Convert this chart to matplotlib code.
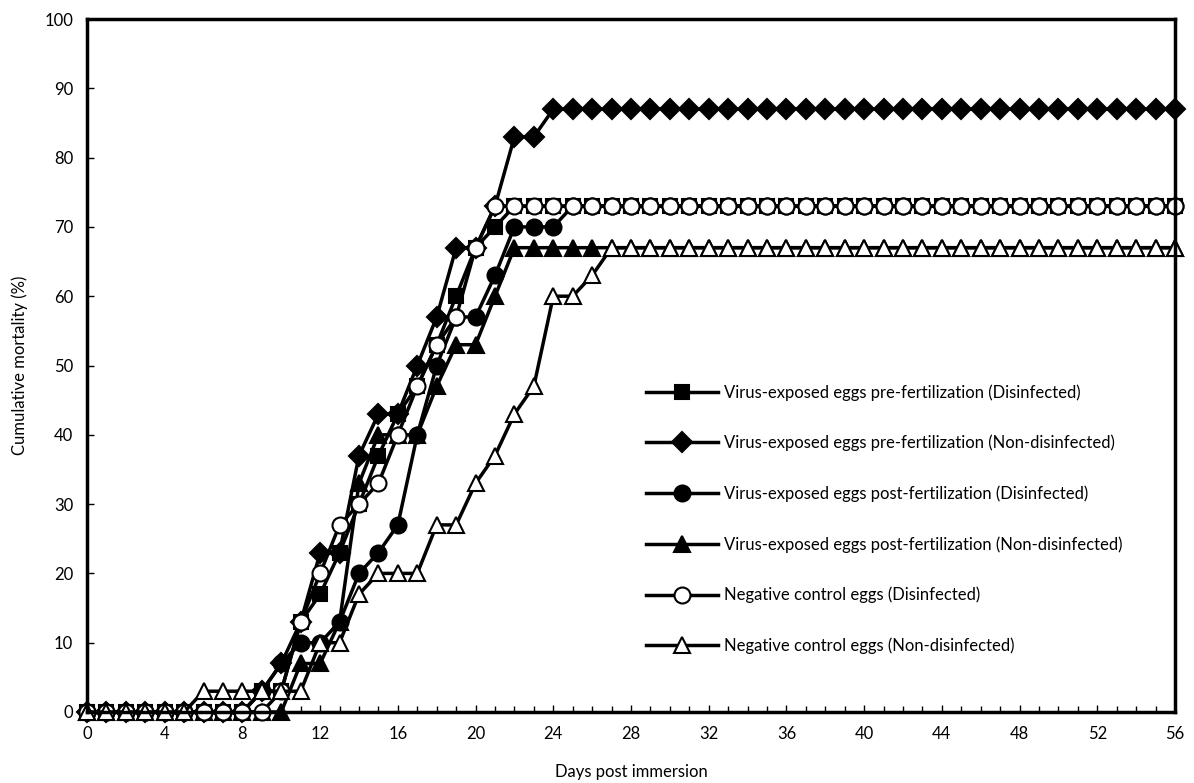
import matplotlib
matplotlib.use("Agg")
import matplotlib.pyplot as plt

plt.rcParams['font.family'] = ['Lato', 'DejaVu Sans']

# days 0..56, cumulative mortality (%)
days = list(range(57))

pre_dis = [0, 0, 0, 0, 0, 0, 0, 0, 0, 3, 3, 13, 17, 23, 30, 37, 43, 47, 53, 60, 67, 70] + [73] * 35
pre_non = [0, 0, 0, 0, 0, 0, 0, 0, 0, 3, 7, 13, 23, 23, 37, 43, 43, 50, 57, 67, 67, 73, 83, 83] + [87] * 33
post_dis = [0, 0, 0, 0, 0, 0, 0, 0, 0, 3, 7, 10, 10, 13, 20, 23, 27, 40, 50, 57, 57, 63, 70, 70, 70] + [73] * 32
post_non = [0, 0, 0, 0, 0, 0, 0, 0, 0, 0, 0, 7, 7, 13, 33, 40, 40, 40, 47, 53, 53, 60] + [67] * 35
neg_dis = [0, 0, 0, 0, 0, 0, 0, 0, 0, 0, 3, 13, 20, 27, 30, 33, 40, 47, 53, 57, 67] + [73] * 36
neg_non = [0, 0, 0, 0, 0, 0, 3, 3, 3, 3, 3, 3, 10, 10, 17, 20, 20, 20, 27, 27, 33, 37, 43, 47, 60, 60, 63] + [67] * 30

labels = [
    "Virus-exposed eggs pre-fertilization (Disinfected)",
    "Virus-exposed eggs pre-fertilization (Non-disinfected)",
    "Virus-exposed eggs post-fertilization (Disinfected)",
    "Virus-exposed eggs post-fertilization (Non-disinfected)",
    "Negative control eggs (Disinfected)",
    "Negative control eggs (Non-disinfected)",
]

fig = plt.figure(figsize=(11.94, 7.83), dpi=100)
ax = fig.add_axes([87 / 1194, 1 - 712 / 783, 1088 / 1194, 693 / 783])

series = [pre_dis, pre_non, post_dis, post_non, neg_dis, neg_non]
markers = ['s', 'D', 'o', '^', 'o', '^']
faces = ['black', 'black', 'black', 'black', 'white', 'white']
sizes = [10.5, 10.5, 11.5, 11.5, 11.5, 11.5]

for y, m, fc, ms, lab in zip(series, markers, faces, sizes, labels):
    ax.plot(days, y, marker=m, markersize=ms, markerfacecolor=fc,
            markeredgecolor='black', markeredgewidth=1.5,
            color='black', linewidth=2.5, label=lab, clip_on=False)

ax.set_xlim(0, 56)
ax.set_ylim(0, 100)
ax.set_xticks(range(0, 57, 4))
ax.set_xticks(range(0, 57), minor=True)
ax.set_yticks(range(0, 101, 10))
ax.tick_params(direction='in', labelsize=12, length=5, width=1)
ax.tick_params(axis='x', pad=10)
ax.tick_params(axis='y', pad=10)
ax.tick_params(which='minor', direction='in', length=4, width=1)
for s in ax.spines.values():
    s.set_linewidth(2.5)

ax.set_xlabel("Days post immersion", fontsize=12, labelpad=16)
ax.set_ylabel("Cumulative mortality (%)", fontsize=12, labelpad=12)

ax.legend(loc='upper left', bbox_to_anchor=(0.5, 0.495), frameon=False,
          fontsize=12, labelspacing=2.05, handlelength=4.3, handletextpad=0.4)

fig.savefig("out.png", dpi=100)
